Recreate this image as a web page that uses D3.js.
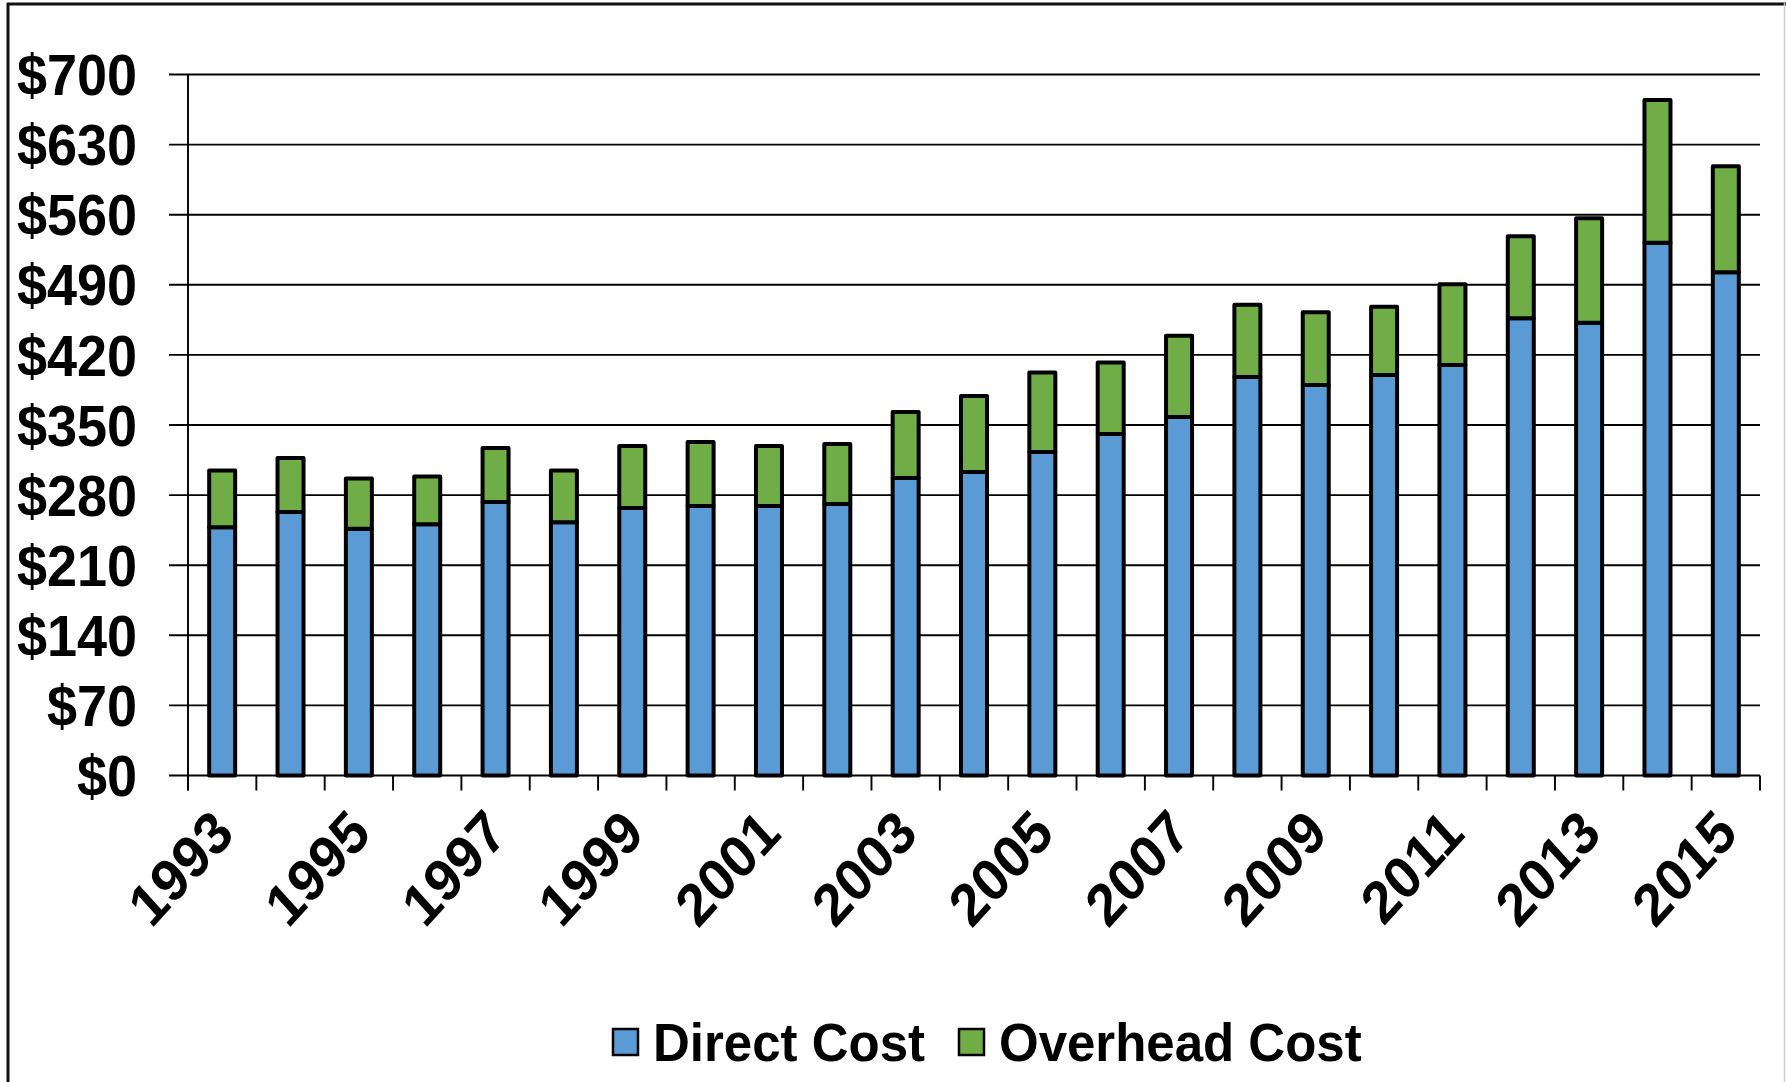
<!DOCTYPE html>
<html>
<head>
<meta charset="utf-8">
<script src="https://cdn.jsdelivr.net/npm/d3@7"></script>
<style>
  html, body { margin: 0; padding: 0; background: #fff; }
  svg { display: block; }
  text { font-family: "Liberation Sans", Arial, sans-serif; font-weight: bold; fill: #000; }
</style>
</head>
<body>
<svg id="chart" width="1786" height="1082"></svg>
<script>
const years = ["1993","1994","1995","1996","1997","1998","1999","2000","2001","2002","2003","2004","2005","2006","2007","2008","2009","2010","2011","2012","2013","2014","2015"];
const directCost = [248, 263, 246.5, 251, 273, 253, 267, 269, 269, 271, 297, 303, 323, 341, 358, 398, 390, 400, 410, 456.5, 452, 532, 502.5];
const overheadCost = [56.5, 54, 50, 47.5, 54, 51.5, 62, 64, 60, 60, 66, 76, 79.5, 71.5, 81, 72, 72.5, 68, 80.5, 82, 104.5, 142.5, 106];
const yTicks = [0, 70, 140, 210, 280, 350, 420, 490, 560, 630, 700];
const xLabelYears = ["1993","1995","1997","1999","2001","2003","2005","2007","2009","2011","2013","2015"];
const seriesNames = ["Direct Cost", "Overhead Cost"];
const seriesColors = ["#5B9BD5", "#70AD47"];

const svg = d3.select("#chart");
const plotLeft = 188, plotRight = 1760, plotTop = 74.5, plotBottom = 775.5;

// outer frame
svg.append("line").attr("x1", 8).attr("x2", 8).attr("y1", 3).attr("y2", 1082).attr("stroke", "#111").attr("stroke-width", 3);
svg.append("line").attr("x1", 7).attr("x2", 1786).attr("y1", 4).attr("y2", 4).attr("stroke", "#111").attr("stroke-width", 3);
svg.append("line").attr("x1", 1784.5).attr("x2", 1784.5).attr("y1", 3).attr("y2", 1082).attr("stroke", "#ccc").attr("stroke-width", 1.5);

const x = d3.scaleBand().domain(years).range([plotLeft, plotRight]).paddingInner(0).paddingOuter(0);
const y = d3.scaleLinear().domain([0, 700]).range([plotBottom, plotTop]);

// gridlines + left ticks
svg.append("g").selectAll("line").data(yTicks).join("line")
  .attr("x1", 169).attr("x2", plotRight)
  .attr("y1", d => y(d)).attr("y2", d => y(d))
  .attr("stroke", "#000").attr("stroke-width", 1.9);

// y axis line
svg.append("line").attr("x1", plotLeft).attr("x2", plotLeft).attr("y1", y(700)).attr("y2", plotBottom + 15)
  .attr("stroke", "#000").attr("stroke-width", 1.9);

// bottom tick marks at category boundaries
const boundaries = years.map(d => x(d)).concat([x(years[years.length - 1]) + x.bandwidth()]);
svg.append("g").selectAll("line").data(boundaries).join("line")
  .attr("x1", d => d).attr("x2", d => d)
  .attr("y1", plotBottom).attr("y2", plotBottom + 15)
  .attr("stroke", "#000").attr("stroke-width", 1.9);

// y labels
svg.append("g").selectAll("text").data(yTicks).join("text")
  .attr("transform", d => `translate(137,${y(d)}) scale(1,1.06)`)
  .attr("dy", "0.36em")
  .attr("text-anchor", "end").attr("font-size", 54)
  .text(d => "$" + d);

// stacked bars
const table = years.map((yr, i) => ({ year: yr, direct: directCost[i], overhead: overheadCost[i] }));
const stack = d3.stack().keys(["direct", "overhead"]);
const stacked = stack(table);
const barW = 26;
stacked.forEach((layer, li) => {
  svg.append("g").selectAll("rect").data(layer).join("rect")
    .attr("x", d => x(d.data.year) + x.bandwidth() / 2 - barW / 2)
    .attr("width", barW)
    .attr("y", d => y(d[1]))
    .attr("height", d => y(d[0]) - y(d[1]))
    .attr("fill", seriesColors[li])
    .attr("stroke", "#000").attr("stroke-width", 4)
    .attr("stroke-linejoin", "round");
});

// x labels
svg.append("g").selectAll("text").data(xLabelYears).join("text")
  .attr("transform", d => `translate(${x(d) + x.bandwidth() / 2 + 14},836) scale(1,1.1) rotate(-45)`)
  .attr("text-anchor", "end").attr("font-size", 54)
  .text(d => d);

// legend
const legendX = [613, 959];
const legendG = svg.append("g");
seriesNames.forEach((name, i) => {
  legendG.append("rect").attr("x", legendX[i]).attr("y", 1029).attr("width", 25).attr("height", 26)
    .attr("fill", seriesColors[i]).attr("stroke", "#000").attr("stroke-width", 2.5);
  legendG.append("text")
    .attr("transform", `translate(${legendX[i] + 40},1061) scale(1,1.07)`)
    .attr("font-size", 51).text(name);
});
</script>
</body>
</html>
